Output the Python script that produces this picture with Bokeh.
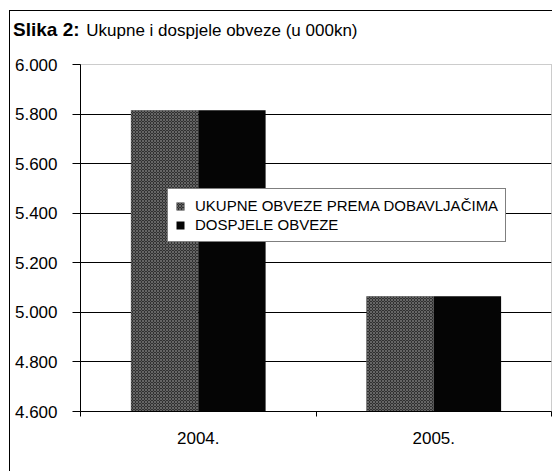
from bokeh.plotting import figure
from bokeh.layouts import column
from bokeh.models import (Range1d, FixedTicker, Legend, LegendItem, ColumnDataSource, Div)
from bokeh.transform import dodge
from bokeh.embed import file_html
from bokeh.resources import INLINE

years = ["2004.", "2005."]
ukupne = [5815, 5065]
dospjele = [5815, 5065]
y_ticks = [4600, 4800, 5000, 5200, 5400, 5600, 5800, 6000]
y_tick_labels = ["4.600", "4.800", "5.000", "5.200", "5.400", "5.600", "5.800", "6.000"]
series_names = ["UKUPNE OBVEZE PREMA DOBAVLJAČIMA", "DOSPJELE OBVEZE"]
title_bold = "Slika 2:"
title_rest = "Ukupne i dospjele obveze (u 000kn)"

FONT = "Liberation Sans"

# category slots: category i occupies [i, i+1] on the x scale
centers = [i + 0.5 for i in range(len(years))]
src = ColumnDataSource(dict(xc=centers, u=ukupne, d=dospjele))

title = Div(
    text=(f'<div style="padding:20px 0 0 13px;font-family:\'{FONT}\';font-size:17px;'
          f'line-height:20px;color:black;white-space:nowrap">'
          f'<b style="font-size:19px;margin-right:2px">{title_bold}</b> {title_rest}</div>'),
    width=552, height=46, styles={"margin": "0", "padding": "0"})

p = figure(x_range=Range1d(0, len(years)), y_range=Range1d(y_ticks[0], y_ticks[-1]),
           width=552, height=425, output_backend="svg", toolbar_location=None,
           min_border_left=80, min_border_top=18,
           min_border_right=1, min_border_bottom=60)
p.border_fill_alpha = 0

p.outline_line_color = "#999999"
p.outline_line_dash = "1 1"
p.xgrid.visible = False
p.ygrid.ticker = FixedTicker(ticks=y_ticks[1:-1])
p.ygrid.grid_line_color = "black"
p.ygrid.grid_line_width = 1

ax = p.yaxis[0]
ax.ticker = FixedTicker(ticks=y_ticks)
ax.major_label_overrides = {t: l for t, l in zip(y_ticks, y_tick_labels)}
ax.minor_tick_line_color = None
ax.major_tick_in = 0
ax.major_tick_out = 8
ax.axis_line_color = "black"
ax.major_tick_line_color = "black"
ax.major_label_standoff = 15
ax.major_label_text_font = FONT
ax.major_label_text_font_size = "17px"
ax.major_label_text_color = "black"

xa = p.xaxis[0]
xa.ticker = FixedTicker(ticks=centers, minor_ticks=list(range(len(years) + 1)))
xa.major_label_overrides = {c: y for c, y in zip(centers, years)}
xa.major_tick_line_color = None
xa.major_tick_in = 0
xa.major_tick_out = 0
xa.minor_tick_in = 0
xa.minor_tick_out = 5
xa.minor_tick_line_color = "black"
xa.axis_line_color = "black"
xa.major_label_standoff = 15
xa.major_label_text_font = FONT
xa.major_label_text_font_size = "17px"
xa.major_label_text_color = "black"

r1 = p.vbar(x=dodge("xc", -0.143), top="u", bottom=y_ticks[0], width=0.286,
            source=src, fill_color="#303030", line_color=None,
            hatch_pattern="diagonal_cross", hatch_color="#8c8c8c", hatch_scale=3, hatch_weight=0.6)
r2 = p.vbar(x=dodge("xc", 0.143), top="d", bottom=y_ticks[0], width=0.286,
            source=src, fill_color="#050505", line_color=None)

legend = Legend(items=[LegendItem(label=series_names[0], renderers=[r1]),
                       LegendItem(label=series_names[1], renderers=[r2])],
                location=(87, 169), border_line_color="black", border_line_width=1,
                background_fill_color="white", background_fill_alpha=1,
                padding=7, spacing=0, margin=0, glyph_width=10, glyph_height=10,
                label_height=19, label_standoff=10,
                label_text_font=FONT, label_text_font_size="15px", label_text_color="black")
p.add_layout(legend)

layout = column(title, p, spacing=0, styles={
    "background-image": "linear-gradient(#000,#000), linear-gradient(#000,#000)",
    "background-size": "1px 100%, 100% 1px",
    "background-position": "9px 10px, 9px 10px",
    "background-repeat": "no-repeat",
})

open("out.html", "w").write(file_html(layout, INLINE))
